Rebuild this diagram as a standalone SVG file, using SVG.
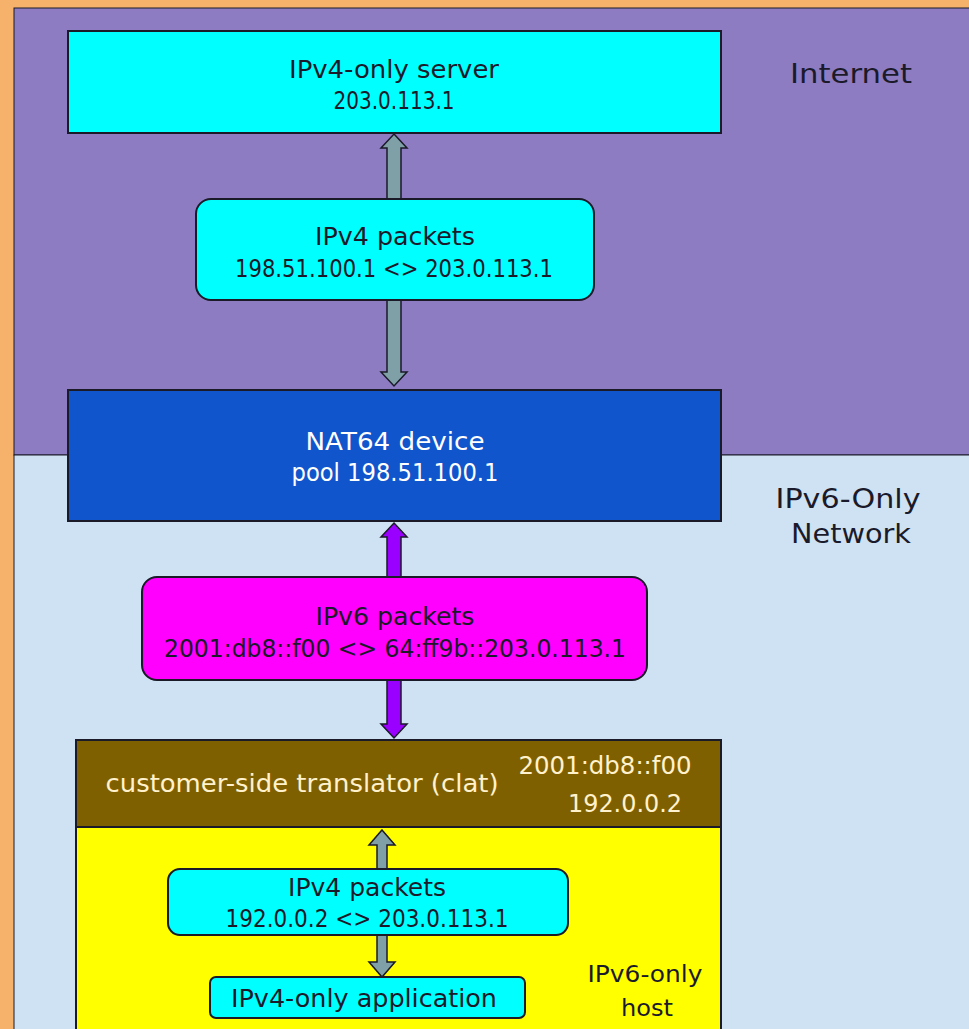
<svg xmlns="http://www.w3.org/2000/svg" width="969" height="1029" viewBox="0 0 969 1029">
<style>
text{font-family:"DejaVu Sans","Liberation Sans",sans-serif;font-size:24px;text-anchor:middle;fill:#1a1a2a}
.w{fill:#ffffff}
.c{fill:#fff2cc}
.box{stroke:#1a1a28;stroke-width:2}
.arr{stroke:#1a1a28;stroke-width:1.5}
.lbl{font-size:27px}
.sm{font-size:23px}
</style>
<rect x="0" y="0" width="969" height="1029" fill="#f6b26b"/>
<rect x="14" y="8" width="960" height="447" fill="#8e7cc3" stroke="#1a1a28" stroke-width="1"/>
<rect x="14" y="455" width="960" height="580" fill="#cfe2f3" stroke="#1a1a28" stroke-width="1"/>
<text class="lbl" x="851" y="83" textLength="122" lengthAdjust="spacingAndGlyphs">Internet</text>
<text class="lbl" x="848" y="508" textLength="145" lengthAdjust="spacingAndGlyphs">IPv6-Only</text>
<text class="lbl" x="851" y="543" textLength="120" lengthAdjust="spacingAndGlyphs">Network</text>
<g id="connectors">
<polygon class="arr" fill="#7fa0a6" points="394,134 407,148 401,148 401,372 407,372 394,386 381,372 387,372 387,148 381,148"/>
<polygon class="arr" fill="#9900ff" points="394,523 407,537 401,537 401,724 407,724 394,738 381,724 387,724 387,537 381,537"/>
</g>
<g id="server">
<rect class="box" x="68" y="31" width="653" height="102" fill="#00ffff"/>
<text x="394" y="78" textLength="210" lengthAdjust="spacingAndGlyphs">IPv4-only server</text>
<text x="394" y="109" textLength="121" lengthAdjust="spacingAndGlyphs">203.0.113.1</text>
</g>
<g id="ipv4-packets">
<rect class="box" x="196" y="199" width="398" height="101" rx="15" fill="#00ffff"/>
<text x="395" y="245" textLength="160" lengthAdjust="spacingAndGlyphs">IPv4 packets</text>
<text x="394" y="277" textLength="318" lengthAdjust="spacingAndGlyphs">198.51.100.1 &lt;&gt; 203.0.113.1</text>
</g>
<g id="nat64">
<rect class="box" x="68" y="390" width="653" height="131" fill="#1155cc"/>
<text class="w" x="395" y="450" textLength="179" lengthAdjust="spacingAndGlyphs">NAT64 device</text>
<text class="w" x="395" y="481" textLength="207" lengthAdjust="spacingAndGlyphs">pool 198.51.100.1</text>
</g>
<g id="ipv6-packets">
<rect class="box" x="142" y="577" width="505" height="103" rx="15" fill="#ff00ff"/>
<text x="395" y="625" textLength="159" lengthAdjust="spacingAndGlyphs">IPv6 packets</text>
<text x="395" y="657" textLength="462" lengthAdjust="spacingAndGlyphs">2001:db8::f00 &lt;&gt; 64:ff9b::203.0.113.1</text>
</g>
<g id="host">
<rect class="box" x="76" y="740" width="645" height="300" fill="#ffff00"/>
<rect class="box" x="76" y="740" width="645" height="87" fill="#7f6000"/>
<text class="c" x="302" y="792" textLength="393" lengthAdjust="spacingAndGlyphs">customer-side translator (clat)</text>
<text class="c" x="605" y="774" textLength="173" lengthAdjust="spacingAndGlyphs">2001:db8::f00</text>
<text class="c" x="625" y="812" textLength="114" lengthAdjust="spacingAndGlyphs">192.0.0.2</text>
<text class="sm" x="645" y="982" textLength="115" lengthAdjust="spacingAndGlyphs">IPv6-only</text>
<text class="sm" x="647" y="1016" textLength="52" lengthAdjust="spacingAndGlyphs">host</text>
</g>
<g id="host-connectors">
<polygon class="arr" fill="#7fa0a6" points="382,830 395,845 387,845 387,962 395,962 382,977 369,962 377,962 377,845 369,845"/>
</g>
<g id="ipv4-packets-host">
<rect class="box" x="168" y="869" width="400" height="66" rx="12" fill="#00ffff"/>
<text x="367" y="896" textLength="158" lengthAdjust="spacingAndGlyphs">IPv4 packets</text>
<text x="367" y="927" textLength="283" lengthAdjust="spacingAndGlyphs">192.0.0.2 &lt;&gt; 203.0.113.1</text>
</g>
<g id="app">
<rect class="box" x="210" y="977" width="315" height="41" rx="6" fill="#00ffff"/>
<text x="364" y="1007" textLength="266" lengthAdjust="spacingAndGlyphs">IPv4-only application</text>
</g>
</svg>
